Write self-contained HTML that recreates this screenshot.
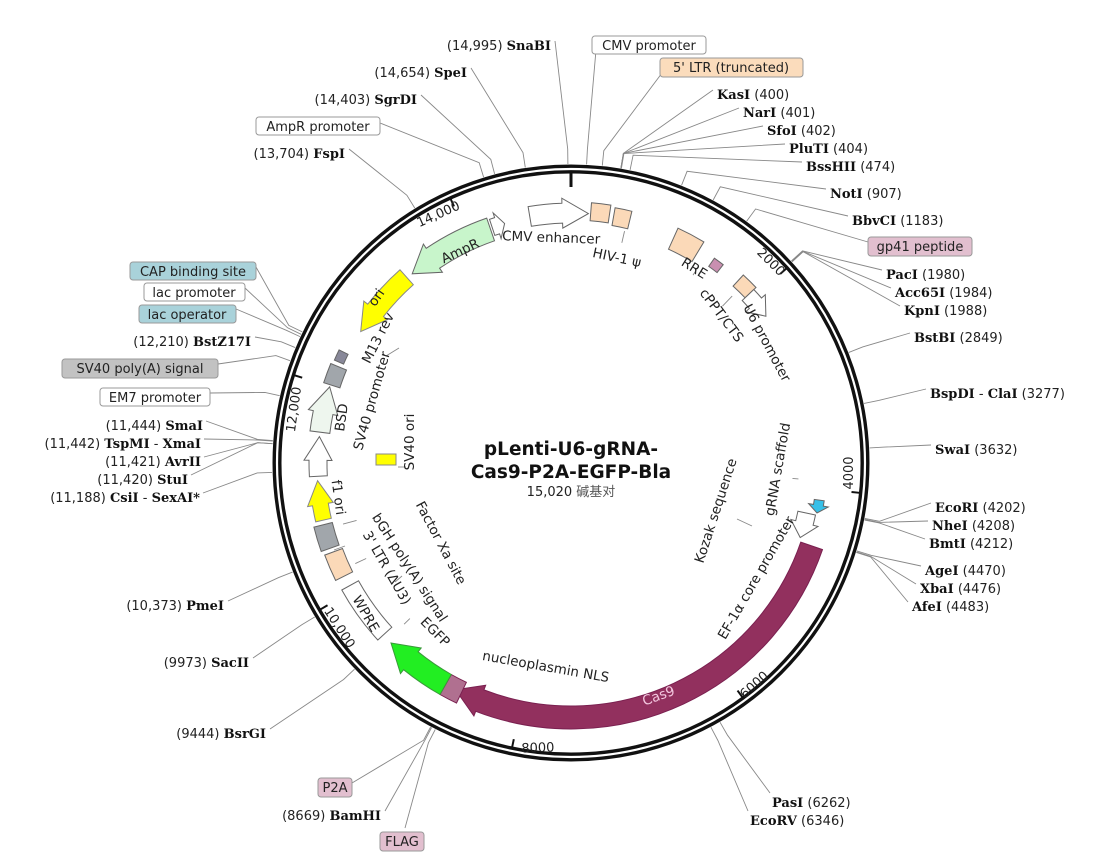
<!DOCTYPE html>
<html><head><meta charset="utf-8">
<style>
html,body{margin:0;padding:0;background:#fff;}
svg{display:block;}
text{font-family:"DejaVu Sans","Liberation Sans","Noto Sans CJK SC",sans-serif;font-size:13px;fill:#222;}
.b{font-family:"DejaVu Serif","Liberation Serif",serif;font-weight:bold;font-size:13px;fill:#111;}
.c{font-size:13.5px;fill:#222;}
.tk{font-size:13px;}
</style></head>
<body>
<svg id="s" width="1105" height="860" viewBox="0 0 1105 860" xmlns="http://www.w3.org/2000/svg">
<g id="lines" stroke="#888" stroke-width="0.9" fill="none"></g>
<circle cx="571" cy="463" r="294" fill="none" stroke="#111" stroke-width="9"/>
<circle cx="571" cy="463" r="294" fill="none" stroke="#fff" stroke-width="2.2"/>
<g id="feat"></g>
<g id="ticks" stroke="#111" stroke-width="2"></g>

<text x="571" y="455" text-anchor="middle" style="font-size:18.5px;font-weight:bold;fill:#111">pLenti-U6-gRNA-</text>
<text x="571" y="478" text-anchor="middle" style="font-size:18.5px;font-weight:bold;fill:#111">Cas9-P2A-EGFP-Bla</text>
<text x="571" y="496" text-anchor="middle" style="font-size:13px">15,020 <tspan style="fill:#555">碱基对</tspan></text>

<text class="tk" transform="translate(440,218) rotate(-24)" text-anchor="middle">14,000</text>
<text class="tk" transform="translate(298,410) rotate(-82)" text-anchor="middle">12,000</text>
<text class="tk" transform="translate(336,630) rotate(57)" text-anchor="middle">10,000</text>
<text class="tk" transform="translate(538,752) rotate(-2)" text-anchor="middle">8000</text>
<text class="tk" transform="translate(757,688) rotate(-42)" text-anchor="middle">6000</text>
<text class="tk" transform="translate(853,473) rotate(-90)" text-anchor="middle">4000</text>
<text class="tk" transform="translate(768,265) rotate(45)" text-anchor="middle">2000</text>

<text transform="translate(551,242) rotate(2)" text-anchor="middle" class="c">CMV enhancer</text>
<text transform="translate(462,255) rotate(-25)" text-anchor="middle" class="c">AmpR</text>
<text transform="translate(616,262) rotate(12)" text-anchor="middle" class="c">HIV-1 ψ</text>
<text transform="translate(692,272) rotate(32)" text-anchor="middle" class="c">RRE</text>
<text transform="translate(718,318) rotate(53)" text-anchor="middle" class="c">cPPT/CTS</text>
<text transform="translate(763,345) rotate(62)" text-anchor="middle" class="c">U6 promoter</text>
<text transform="translate(380,300) rotate(-55)" text-anchor="middle" class="c">ori</text>
<text transform="translate(382,340) rotate(-63)" text-anchor="middle" class="c">M13 rev</text>
<text transform="translate(376,402) rotate(-74)" text-anchor="middle" class="c">SV40 promoter</text>
<text transform="translate(346,418) rotate(-82)" text-anchor="middle" class="c">BSD</text>
<text transform="translate(414,442) rotate(-90)" text-anchor="middle" class="c">SV40 ori</text>
<text transform="translate(334,498) rotate(82)" text-anchor="middle" class="c">f1 ori</text>
<text transform="translate(437,545) rotate(62)" text-anchor="middle" class="c">Factor Xa site</text>
<text transform="translate(406,570) rotate(57)" text-anchor="middle" class="c">bGH poly(A) signal</text>
<text transform="translate(383,570) rotate(60)" text-anchor="middle" class="c">3' LTR (ΔU3)</text>
<text transform="translate(362,616) rotate(60)" text-anchor="middle" class="c">WPRE</text>
<text transform="translate(432,635) rotate(45)" text-anchor="middle" class="c">EGFP</text>
<text transform="translate(545,671) rotate(10)" text-anchor="middle" class="c">nucleoplasmin NLS</text>
<text transform="translate(660,700) rotate(-20)" text-anchor="middle" style="font-size:13.5px;fill:#f4c8e0">Cas9</text>
<text transform="translate(760,580) rotate(-60)" text-anchor="middle" class="c">EF-1α core promoter</text>
<text transform="translate(720,512) rotate(-72)" text-anchor="middle" class="c">Kozak sequence</text>
<text transform="translate(782,470) rotate(-80)" text-anchor="middle" class="c">gRNA scaffold</text>

<rect x="592" y="36" width="114" height="18" rx="3" fill="#fff" stroke="#999"/>
<text x="649" y="50" text-anchor="middle">CMV promoter</text>
<rect x="660" y="58" width="143" height="19" rx="3" fill="#fbdcbc" stroke="#999"/>
<text x="731" y="72" text-anchor="middle">5' LTR (truncated)</text>
<rect x="868" y="237" width="104" height="19" rx="3" fill="#e2bfcf" stroke="#999"/>
<text x="920" y="251" text-anchor="middle">gp41 peptide</text>
<rect x="256" y="117" width="124" height="18" rx="3" fill="#fff" stroke="#999"/>
<text x="318" y="131" text-anchor="middle">AmpR promoter</text>
<rect x="130" y="262" width="126" height="18" rx="3" fill="#a9d2da" stroke="#999"/>
<text x="193" y="276" text-anchor="middle">CAP binding site</text>
<rect x="144" y="283" width="101" height="18" rx="3" fill="#fff" stroke="#999"/>
<text x="194" y="297" text-anchor="middle">lac promoter</text>
<rect x="139" y="305" width="97" height="18" rx="3" fill="#a9d2da" stroke="#999"/>
<text x="187" y="319" text-anchor="middle">lac operator</text>
<rect x="62" y="359" width="156" height="19" rx="3" fill="#c2c2c2" stroke="#999"/>
<text x="140" y="373" text-anchor="middle">SV40 poly(A) signal</text>
<rect x="100" y="388" width="110" height="18" rx="3" fill="#fff" stroke="#999"/>
<text x="155" y="402" text-anchor="middle">EM7 promoter</text>
<rect x="318" y="778" width="34" height="19" rx="3" fill="#e2bfcf" stroke="#999"/>
<text x="335" y="792" text-anchor="middle">P2A</text>
<rect x="380" y="832" width="44" height="19" rx="3" fill="#e2bfcf" stroke="#999"/>
<text x="402" y="846" text-anchor="middle">FLAG</text>

<g text-anchor="end">
<text x="551" y="50">(14,995)  <tspan class="b">SnaBI</tspan></text>
<text x="467" y="77">(14,654)  <tspan class="b">SpeI</tspan></text>
<text x="417" y="104">(14,403)  <tspan class="b">SgrDI</tspan></text>
<text x="345" y="158">(13,704)  <tspan class="b">FspI</tspan></text>
<text x="251" y="346">(12,210)  <tspan class="b">BstZ17I</tspan></text>
<text x="203" y="430">(11,444)  <tspan class="b">SmaI</tspan></text>
<text x="201" y="448">(11,442)  <tspan class="b">TspMI</tspan> - <tspan class="b">XmaI</tspan></text>
<text x="201" y="466">(11,421)  <tspan class="b">AvrII</tspan></text>
<text x="188" y="484">(11,420)  <tspan class="b">StuI</tspan></text>
<text x="200" y="502">(11,188)  <tspan class="b">CsiI</tspan> - <tspan class="b">SexAI*</tspan></text>
<text x="224" y="610">(10,373)  <tspan class="b">PmeI</tspan></text>
<text x="249" y="667">(9973)  <tspan class="b">SacII</tspan></text>
<text x="266" y="738">(9444)  <tspan class="b">BsrGI</tspan></text>
<text x="381" y="820">(8669)  <tspan class="b">BamHI</tspan></text>
</g>
<g>
<text x="717" y="99"><tspan class="b">KasI</tspan>  (400)</text>
<text x="743" y="117"><tspan class="b">NarI</tspan>  (401)</text>
<text x="767" y="135"><tspan class="b">SfoI</tspan>  (402)</text>
<text x="789" y="153"><tspan class="b">PluTI</tspan>  (404)</text>
<text x="806" y="171"><tspan class="b">BssHII</tspan>  (474)</text>
<text x="830" y="198"><tspan class="b">NotI</tspan>  (907)</text>
<text x="852" y="225"><tspan class="b">BbvCI</tspan>  (1183)</text>
<text x="886" y="279"><tspan class="b">PacI</tspan>  (1980)</text>
<text x="895" y="297"><tspan class="b">Acc65I</tspan>  (1984)</text>
<text x="904" y="315"><tspan class="b">KpnI</tspan>  (1988)</text>
<text x="914" y="342"><tspan class="b">BstBI</tspan>  (2849)</text>
<text x="930" y="398"><tspan class="b">BspDI</tspan> - <tspan class="b">ClaI</tspan>  (3277)</text>
<text x="935" y="454"><tspan class="b">SwaI</tspan>  (3632)</text>
<text x="935" y="512"><tspan class="b">EcoRI</tspan>  (4202)</text>
<text x="932" y="530"><tspan class="b">NheI</tspan>  (4208)</text>
<text x="929" y="548"><tspan class="b">BmtI</tspan>  (4212)</text>
<text x="925" y="575"><tspan class="b">AgeI</tspan>  (4470)</text>
<text x="920" y="593"><tspan class="b">XbaI</tspan>  (4476)</text>
<text x="912" y="611"><tspan class="b">AfeI</tspan>  (4483)</text>
<text x="772" y="807"><tspan class="b">PasI</tspan>  (6262)</text>
<text x="750" y="825"><tspan class="b">EcoRV</tspan>  (6346)</text>
</g>
</svg>
<script>
(function(){
var NS="http://www.w3.org/2000/svg",cx=571,cy=463;
function P(r,a){a=a*Math.PI/180;return [cx+r*Math.sin(a),cy-r*Math.cos(a)];}
function f(p){return p[0].toFixed(1)+","+p[1].toFixed(1);}
function el(g,tag,at){var e=document.createElementNS(NS,tag);for(var k in at)e.setAttribute(k,at[k]);document.getElementById(g).appendChild(e);return e;}
function arc(r,a1,a2){var lg=Math.abs(a2-a1)>180?1:0,sw=a2>a1?1:0;return "A"+r+","+r+" 0 "+lg+","+sw+" "+f(P(r,a2));}
function feat(a1,a2,r1,r2,head,fill,stroke){
  var d,hl=Math.min(6,(a2-a1)*0.6),w=5;
  if(head=="cw"){var b=a2-hl;d="M"+f(P(r2,a1))+arc(r2,a1,b)+"L"+f(P(r2+w,b))+"L"+f(P((r1+r2)/2,a2))+"L"+f(P(r1-w,b))+"L"+f(P(r1,b))+arc(r1,b,a1)+"Z";}
  else if(head=="ccw"){var b=a1+hl;d="M"+f(P(r2,a2))+arc(r2,a2,b)+"L"+f(P(r2+w,b))+"L"+f(P((r1+r2)/2,a1))+"L"+f(P(r1-w,b))+"L"+f(P(r1,b))+arc(r1,b,a2)+"Z";}
  else d="M"+f(P(r2,a1))+arc(r2,a1,a2)+"L"+f(P(r1,a2))+arc(r1,a2,a1)+"Z";
  el("feat","path",{d:d,fill:fill,stroke:stroke||"#666","stroke-width":1});
}
feat(350.5,364,240,260,"cw","#fff");
feat(4.5,8.8,243,261,"","#fbd9b8");
feat(9.8,13.6,241,259,"","#fbd9b8");
feat(24.5,31,235,258,"","#fbd9b8");
feat(35,37.5,240,250,"","#c98fb0");
feat(42.5,46.5,240,255,"","#fbd9b8");
feat(46.5,53,236,252,"cw","#fff");
feat(98.5,101.5,246,256,"cw","#36c0e8");
feat(102,108,232,250,"cw","#fff");
feat(109,207,243,266,"cw","#92305e","#7a2050");
feat(205.5,209.5,243,266,"","#b07090","#7a2050");
feat(209.5,225,243,266,"cw","#22ee22","#3a9a3a");
feat(227.5,241,243,262,"","#fff");
feat(243.5,249.5,244,263,"","#fbd9b8");
feat(250.5,256,246,265,"","#a1a6ab");
feat(257,266,246,262,"cw","#ffff00","#888");
feat(267,276,244,262,"cw","#fff");
feat(277,287.5,243,263,"cw","#eef6ee");
feat(288,292.5,243,260,"","#a1a6ab");
feat(293.5,296,248,258,"","#889");
feat(302,318.5,238,258,"ccw","#ffff00","#888");
feat(320,341,235,259,"ccw","#c8f5cb");
feat(341.5,344.5,240,257,"cw","#fff");
el("feat","rect",{x:376,y:454,width:20,height:11,fill:"#ffff00",stroke:"#888"});
[[0,276,292],[335.5,282,290],[287.6,282,290],[239.7,282,290],[191.7,282,290],[143.8,282,290],[95.9,282,290],[47.9,282,290]].forEach(function(t){var a=P(t[1],t[0]),b=P(t[2],t[0]);el("ticks","line",{x1:a[0],y1:a[1],x2:b[0],y2:b[1],"stroke-width":t[0]==0?3:2});});
var L=[[359.4,555,45],[351.2,471,72],[345.2,421,99],[343,380,127],[328.5,349,153],[296,256,271],[295.5,245,292],[295,236,313],[292.7,255,341],[290,218,368],[283,210,397],[274.3,206,425],[274.2,204,443],[273.7,204,461],[273.7,191,479],[268.2,203,497],[248.6,228,605],[239,253,662],[226.4,270,733],[208,352,787],[207.8,385,815],[207,405,832],
[3,596,54],[6,662,77],[9.6,713,94],[9.6,739,112],[9.6,763,130],[9.7,785,148],[11.4,802,166],[21.7,826,193],[28.4,848,220],[36,868,246],[47.5,882,274],[47.6,891,292],[47.7,900,310],[68.3,910,337],[78.5,926,393],[87.1,931,449],[100.7,931,507],[100.9,928,525],[101,925,543],[107.1,921,570],[107.3,916,588],[107.4,908,606],[150.1,770,797],[152.1,748,815]];
L.forEach(function(l){var a=P(299,l[0]),b=P(314,l[0]);el("lines","polyline",{points:f(a)+" "+f(b)+" "+l[1]+","+(l[2]-4)});});
[[13,238,226],[33,232,224],[44,232,218],[94,222,228],[104.7,222,230],[226,232,224],[255,236,222],[245,238,226]].forEach(function(l){var a=P(l[1],l[0]),b=P(l[2],l[0]);el("lines","line",{x1:a[0],y1:a[1],x2:b[0],y2:b[1]});});
el("lines","line",{x1:737,y1:519,x2:752,y2:526});
el("lines","line",{x1:399,y1:348,x2:386,y2:356});
el("lines","line",{x1:406,y1:467,x2:398,y2:467});
el("lines","line",{x1:334,y1:550,x2:345,y2:546});
el("lines","line",{x1:402,y1:576,x2:395,y2:582});
})();
</script>
</body></html>
